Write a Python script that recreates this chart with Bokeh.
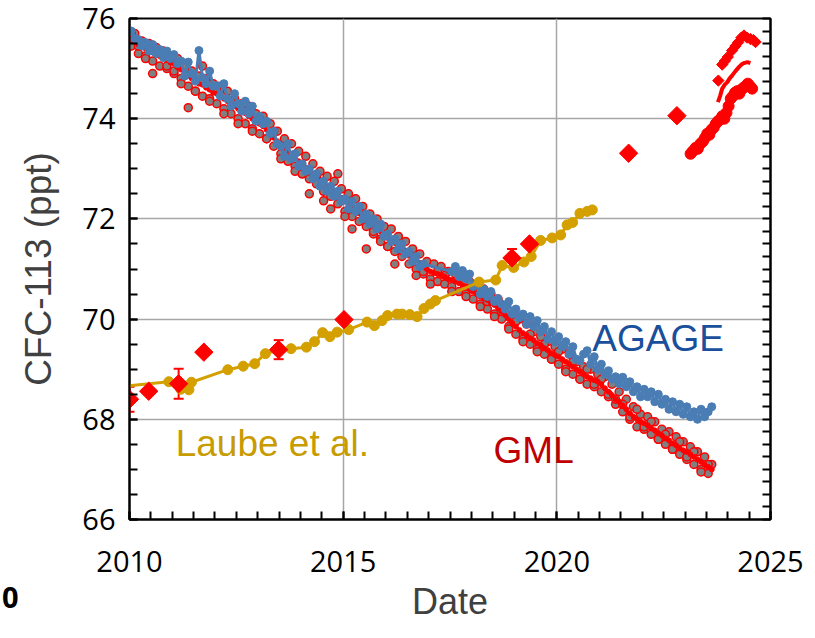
import numpy as np
from bokeh.plotting import figure
from bokeh.layouts import row
from bokeh.models import (ColumnDataSource, FixedTicker, LinearAxis, Label, Div,
                          Whisker, TeeHead, Range1d, CustomJSTickFormatter)
from bokeh.embed import file_html
from bokeh.resources import INLINE

# ---------------- data ----------------
START_YEAR = 2010
N_MONTHS = 164

agage_ppt = [
    75.75, 75.60, 75.58, 75.45, 75.52, 75.35, 75.48, 75.30, 75.38, 75.22, 75.35, 75.20,
    75.28, 75.10, 75.15, 74.85, 75.13, 74.90, 74.75, 75.36, 74.82, 74.70, 74.95, 74.65,
    74.66, 74.45, 74.70, 74.40, 74.25, 74.50, 74.30, 74.15, 74.35, 74.10, 74.25, 73.95,
    74.05, 73.90, 73.95, 73.70, 73.75, 73.50, 73.45, 73.25, 73.50, 73.20, 73.30, 73.05,
    73.10, 72.95, 73.00, 72.80, 72.90, 72.65, 72.75, 72.55, 72.65, 72.45, 72.55, 72.35,
    72.40, 72.20, 72.35, 72.15, 72.25, 72.00, 72.10, 71.90, 72.00, 71.80, 71.90, 71.65,
    71.70, 71.55, 71.60, 71.40, 71.50, 71.30, 71.35, 71.15, 71.25, 71.05, 71.10, None,
    None, None, None, None, None, None, 70.95, 71.05, 70.85, 70.97, 70.80, 70.90,
    70.65, 70.70, 70.50, 70.60, 70.45, 70.55, 70.35, 70.41, 70.30, 70.20, 70.35, 70.10,
    70.20, 70.03, 70.10, 69.90, 70.05, 69.85, 69.97, 69.75, 69.85, 69.60, 69.75, 69.55,
    69.65, 69.45, 69.55, 69.30, 69.45, 69.20, 69.17, 69.30, 69.37, 69.10, 69.25, 69.00,
    69.10, 68.90, 68.97, 68.80, 68.85, 68.71, 68.84, 68.65, 68.75, 68.55, 68.65, 68.45,
    68.60, 68.45, 68.55, 68.35, 68.50, 68.30, 68.40, 68.20, 68.35, 68.15, 68.30, 68.10,
    68.25, 68.05, 68.15, 68.00, 68.20, 68.05, 68.15, 68.25,
]

gml_ppt = [
    75.60, 75.55, 75.48, 75.45, 75.40, 75.38, 75.32, 75.30, 75.25, 75.20, 75.18, 75.12,
    75.10, 75.02, 74.98, 74.92, 74.85, 74.80, 74.75, 74.70, 74.68, 74.62, 74.58, 74.52,
    74.50, 74.45, 74.40, 74.35, 74.30, 74.25, 74.20, 74.15, 74.12, 74.05, 74.00, 73.95,
    73.90, 73.85, 73.78, 73.70, 73.62, 73.55, 73.48, 73.40, 73.35, 73.28, 73.22, 73.15,
    73.08, 73.02, 72.95, 72.90, 72.85, 72.78, 72.72, 72.65, 72.60, 72.55, 72.48, 72.42,
    72.35, 72.30, 72.25, 72.18, 72.12, 72.05, 72.00, 71.95, 71.88, 71.82, 71.75, 71.70,
    71.62, 71.58, 71.52, 71.45, 71.40, 71.35, 71.28, 71.22, 71.18, 71.12, 71.05, 71.00,
    70.95, 70.92, 70.90, 70.88, 70.85, 70.80, 70.78, 70.75, 70.72, 70.68, 70.65, 70.60,
    70.55, 70.50, 70.45, 70.42, 70.38, 70.32, 70.28, 70.22, 70.15, 70.08, 70.00, 69.92,
    69.85, 69.78, 69.72, 69.68, 69.62, 69.58, 69.52, 69.48, 69.42, 69.38, 69.32, 69.28,
    69.25, 69.20, 69.15, 69.10, 69.05, 69.00, 68.95, 68.90, 68.85, 68.82, 68.78, 68.75,
    68.70, 68.62, 68.55, 68.48, 68.40, 68.35, 68.28, 68.20, 68.12, 68.05, 68.00, 67.95,
    67.92, 67.88, 67.82, 67.78, 67.72, 67.68, 67.62, 67.58, 67.52, 67.48, 67.42, 67.38,
    67.35, 67.30, 67.25, 67.20, 67.15, 67.10, 67.05, 67.00,
]

# flask samples (monthly, scattered about the mean)
gml_flask_ppt = [
    75.45, 75.70, 75.30, 75.55, 75.25, 75.50, 75.15, 75.42, 75.05, 75.35, 75.00, 75.25,
    74.90, 75.20, 74.80, 75.05, 74.65, 74.95, 74.55, 74.85, 74.45, 74.80, 74.40, 74.70,
    74.30, 74.65, 74.20, 74.55, 74.10, 74.40, 74.00, 74.30, 73.90, 74.25, 73.80, 74.10,
    73.70, 74.05, 73.60, 73.90, 73.45, 73.75, 73.30, 73.60, 73.15, 73.50, 73.05, 73.35,
    72.90, 73.25, 72.80, 73.10, 72.70, 72.95, 72.55, 72.85, 72.45, 72.75, 72.30, 72.60,
    72.15, 72.50, 72.05, 72.40, 71.95, 72.25, 71.85, 72.10, 71.70, 72.00, 71.60, 71.85,
    71.45, 71.80, 71.35, 71.65, 71.25, 71.55, 71.10, 71.40, 71.00, 71.30, 70.90, 71.15,
    70.80, 71.10, 70.75, 71.05, 70.70, 70.95, 70.65, 70.90, 70.55, 70.85, 70.50, 70.75,
    70.40, 70.70, 70.30, 70.60, 70.20, 70.50, 70.10, 70.40, 70.00, 70.25, 69.85, 70.10,
    69.70, 70.00, 69.60, 69.90, 69.50, 69.75, 69.40, 69.65, 69.30, 69.55, 69.20, 69.45,
    69.10, 69.40, 69.00, 69.30, 68.90, 69.15, 68.80, 69.05, 68.70, 69.00, 68.65, 68.90,
    68.55, 68.85, 68.45, 68.70, 68.30, 68.55, 68.15, 68.40, 68.00, 68.25, 67.85, 68.10,
    67.80, 68.05, 67.70, 67.95, 67.60, 67.80, 67.50, 67.75, 67.40, 67.65, 67.30, 67.55,
    67.20, 67.45, 67.10, 67.35, 67.00, 67.25, 66.92, 67.10,
]

# additional flask samples, every second month
gml_flask2_ppt = [
    75.70, 75.45, 75.20, 74.90, 75.30, 75.05,
    74.95, 74.70, 74.22, 74.55, 75.05, 74.35,
    74.60, 74.10, 74.35, 73.90, 74.15, 73.75,
    74.00, 73.60, 73.75, 73.20, 73.30, 72.95,
    72.90, 72.50, 72.85, 72.36, 72.20, 72.90,
    72.05, 71.80, 72.15, 71.40, 71.75, 71.55,
    71.45, 71.10, 71.37, 71.30, 70.87, 70.95,
    70.70, 70.95, 70.87, 70.55, 70.80, 70.45,
    70.60, 70.25, 70.35, 70.05, 70.15, 69.80,
    69.95, 69.55, 69.70, 69.35, 69.50, 69.20,
    69.35, 68.95, 69.15, 68.80, 69.00, 68.70,
    68.80, 68.50, 68.40, 68.30, 68.05, 68.20,
    67.85, 67.95, 67.60, 67.70, 67.40, 67.55,
    67.25, 67.35, 66.95, 67.10,
]

laube_year = [2009.90, 2010.92, 2011.20, 2011.39, 2011.45, 2012.30, 2012.66, 2012.93,
              2013.18, 2013.50, 2013.78, 2014.14, 2014.33, 2014.52, 2014.69, 2014.86,
              2015.13, 2015.56, 2015.73, 2015.91, 2016.04, 2016.26, 2016.38, 2016.56,
              2016.73, 2016.89, 2017.04, 2017.16, 2018.18, 2018.57, 2018.72, 2018.99,
              2019.23, 2019.40, 2019.62, 2019.89, 2020.09, 2020.24, 2020.37, 2020.54,
              2020.71, 2020.83]
laube_ppt = [68.66, 68.75, 68.60, 68.59, 68.74, 68.99, 69.06, 69.11,
             69.31, 69.38, 69.41, 69.44, 69.55, 69.73, 69.65, 69.74,
             69.79, 69.94, 69.87, 69.97, 70.07, 70.10, 70.10, 70.09,
             70.05, 70.21, 70.30, 70.37, 70.74, 70.78, 71.07, 71.03,
             71.14, 71.25, 71.57, 71.62, 71.68, 71.88, 71.93, 72.11,
             72.15, 72.18]

diamond_year = [2010.00, 2010.45, 2011.15, 2011.74, 2013.49, 2015.02, 2018.95, 2019.36, 2021.68, 2022.81]
diamond_ppt = [68.40, 68.56, 68.71, 69.34, 69.39, 69.99, 71.22, 71.50, 73.31, 74.06]
diamond_err = [0.25, 0.0, 0.30, 0.0, 0.19, 0.0, 0.18, 0.0, 0.0, 0.0]

recent_year = [2023.13, 2023.18, 2023.25, 2023.30, 2023.36, 2023.42, 2023.47, 2023.52, 2023.57,
               2023.62, 2023.67, 2023.72, 2023.77, 2023.82, 2023.87, 2023.92, 2023.97, 2024.02,
               2024.07, 2024.12, 2024.17, 2024.22, 2024.27, 2024.32, 2024.37, 2024.42, 2024.47,
               2024.52, 2024.57]
recent_ppt = [73.30, 73.35, 73.42, 73.40, 73.50, 73.55, 73.62, 73.70, 73.68,
              73.78, 73.82, 73.90, 73.95, 73.98, 74.05, 74.00, 74.12, 74.25,
              74.40, 74.45, 74.52, 74.55, 74.50, 74.58, 74.62, 74.65, 74.70,
              74.65, 74.60]

recent_line_year = [2023.77, 2023.82, 2023.87, 2023.93, 2023.99, 2024.04, 2024.10, 2024.18,
                    2024.26, 2024.32, 2024.38, 2024.46, 2024.53]
recent_line_ppt = [74.33, 74.45, 74.60, 74.68, 74.73, 74.80, 74.86, 74.95,
                   75.03, 75.08, 75.11, 75.13, 75.11]

recent_diamond_year = [2023.78, 2023.87, 2023.93, 2024.00, 2024.10, 2024.18, 2024.24,
                       2024.32, 2024.38, 2024.45, 2024.53, 2024.60, 2024.65]
recent_diamond_ppt = [74.76, 75.08, 75.15, 75.23, 75.36, 75.45, 75.52,
                      75.62, 75.66, 75.62, 75.59, 75.57, 75.53]

x_major = [2010, 2015, 2020, 2025]
y_major = [66, 68, 70, 72, 74, 76]

# ---------------- derived ----------------
month_year = START_YEAR + (np.arange(N_MONTHS) + 0.5) / 12.0
ag_x = [m for m, v in zip(month_year, agage_ppt) if v is not None]
ag_y = [v for v in agage_ppt if v is not None]
flask2_x = month_year[::2]

BLUE = "#4b7db5"
GOLD = "#d4a000"
RED = "#ff0000"
GRAY = "#808080"

STRIP_W = 10  # narrow strip at the left that holds the stray "0" of a neighbouring panel

p = figure(width=815 - STRIP_W, height=638, x_range=Range1d(2010, 2025), y_range=Range1d(66, 76),
           output_backend="svg", toolbar_location=None, margin=0,
           min_border_left=129 - STRIP_W, min_border_right=45, min_border_top=18,
           min_border_bottom=119)
p.background_fill_color = "white"
p.border_fill_color = None
p.outline_line_color = "black"
p.outline_line_width = 2
p.outline_line_alpha = 1.0

# axes
p.xaxis.ticker = FixedTicker(ticks=x_major, minor_ticks=list(np.arange(2010, 2025.01, 0.5)))
p.yaxis.ticker = FixedTicker(ticks=y_major, minor_ticks=list(np.arange(66, 76.01, 0.5)))
for ax in (p.xaxis[0], p.yaxis[0]):
    ax.axis_line_color = "black"
    ax.axis_line_width = 2
    ax.major_tick_in = 8
    ax.major_tick_out = 0
    ax.minor_tick_in = 8
    ax.minor_tick_out = 0
    ax.major_tick_line_color = "black"
    ax.minor_tick_line_color = "black"
    ax.major_tick_line_width = 2
    ax.minor_tick_line_width = 2
    ax.major_label_text_font = "Open Sans"
    ax.major_label_text_font_size = "29px"
    ax.major_label_text_color = "black"
p.xaxis.major_label_standoff = 31
p.yaxis.major_label_standoff = 14

p.yaxis.axis_label = "CFC-113 (ppt)"
p.yaxis.axis_label_text_font = "Liberation Sans"
p.yaxis.axis_label_text_font_size = "37px"
p.yaxis.axis_label_text_font_style = "normal"
p.yaxis.axis_label_text_color = "#404040"
p.yaxis.axis_label_standoff = 20

p.xaxis.axis_label = "Date"
p.xaxis.axis_label_text_font = "Liberation Sans"
p.xaxis.axis_label_text_font_size = "36px"
p.xaxis.axis_label_text_font_style = "normal"
p.xaxis.axis_label_text_color = "#404040"
p.xaxis.axis_label_standoff = 6

right_axis = LinearAxis(ticker=FixedTicker(ticks=list(np.arange(66, 76.01, 0.25))),
                        formatter=CustomJSTickFormatter(code="return ''"))
right_axis.axis_line_color = "black"
right_axis.axis_line_width = 2
right_axis.major_tick_in = 8
right_axis.major_tick_out = 0
right_axis.major_tick_line_width = 2
right_axis.minor_tick_line_color = None
p.add_layout(right_axis, "right")

p.xgrid.grid_line_color = "#a6a6a6"
p.ygrid.grid_line_color = "#a6a6a6"
p.xgrid.grid_line_width = 1.5
p.ygrid.grid_line_width = 1.5

# GML
p.line(month_year, gml_ppt, line_color=RED, line_width=2.5)
p.scatter(month_year, gml_flask_ppt, size=8, fill_color=GRAY, line_color=RED, line_width=1.5)
p.scatter(flask2_x, gml_flask2_ppt, size=8, fill_color=GRAY, line_color=RED, line_width=1.5)
p.scatter(month_year, gml_ppt, size=5, fill_color=RED, line_color=RED)

# AGAGE
p.line(ag_x, ag_y, line_color=BLUE, line_width=3)
p.scatter(ag_x, ag_y, size=8, fill_color=BLUE, line_color=BLUE)

# Laube et al.
p.line(laube_year, laube_ppt, line_color=GOLD, line_width=3)
p.scatter(laube_year, laube_ppt, size=10, fill_color=GOLD, line_color=GOLD)

# diamonds with error bars
err_src = ColumnDataSource(dict(
    x=[x for x, e in zip(diamond_year, diamond_err) if e > 0],
    lower=[y - e for y, e in zip(diamond_ppt, diamond_err) if e > 0],
    upper=[y + e for y, e in zip(diamond_ppt, diamond_err) if e > 0]))
p.add_layout(Whisker(source=err_src, base="x", lower="lower", upper="upper", dimension="height",
                     line_color=RED, line_width=2,
                     upper_head=TeeHead(size=10, line_color=RED, line_width=2),
                     lower_head=TeeHead(size=10, line_color=RED, line_width=2)))
p.scatter(diamond_year, diamond_ppt, marker="square", angle=np.pi / 4, size=13,
          fill_color=RED, line_color=RED)

# recent data
p.scatter(recent_year, recent_ppt, size=11, fill_color=RED, line_color=RED)
p.line(recent_line_year, recent_line_ppt, line_color=RED, line_width=4)
p.scatter(recent_diamond_year, recent_diamond_ppt, marker="square", angle=np.pi / 4, size=8,
          fill_color=RED, line_color=RED)

# series labels
p.add_layout(Label(x=2020.83, y=69.61, text="AGAGE", text_font="Liberation Sans",
                   text_font_size="37px", text_color="#1a4f9c", text_baseline="alphabetic"))
p.add_layout(Label(x=2018.52, y=67.37, text="GML", text_font="Liberation Sans",
                   text_font_size="37px", text_color="#c00000", text_baseline="alphabetic"))
p.add_layout(Label(x=2011.08, y=67.51, text="Laube et al.", text_font="Liberation Sans",
                   text_font_size="37px", text_color="#c89b00", text_baseline="alphabetic"))

# stray panel label of a neighbouring panel, at the lower left corner
strip = Div(text='<div style="padding-top:582px;padding-left:2px;font:bold 29px \'Open Sans\',sans-serif;'
                 'color:black;line-height:1;white-space:nowrap;overflow:visible">0</div>',
            width=STRIP_W, height=638, margin=0, styles={"overflow": "visible", "z-index": "2"})

layout = row(strip, p, spacing=0, margin=0)
open("out.html", "w").write(file_html(layout, INLINE))
